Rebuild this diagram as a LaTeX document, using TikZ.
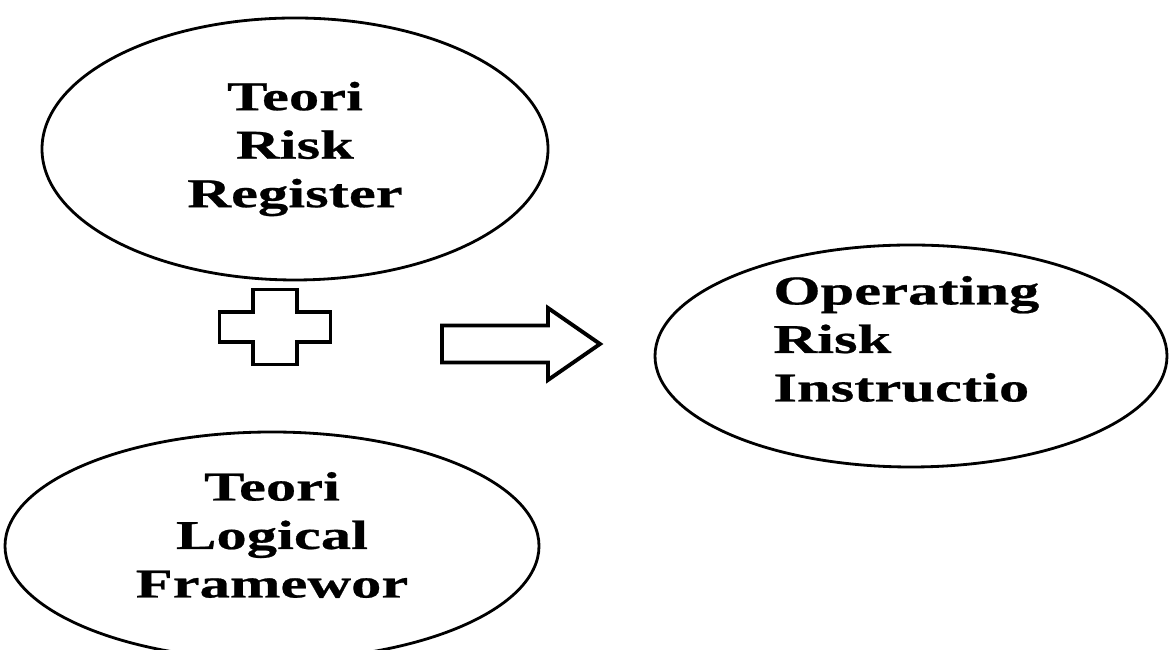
\documentclass[tikz,border=0pt]{standalone}
\usepackage{fontspec}
\usepackage{tikz}
\usetikzlibrary{shapes.geometric}
\newfontfamily\lblfont{Liberation Serif}[FakeStretch=1.48, BoldFeatures={FakeBold=0.6}]

\begin{document}
\begin{tikzpicture}[every node/.style={ellipse, draw=black, line width=1.6pt},
	lbl/.style={draw=none, rectangle, inner sep=0pt, font=\lblfont\bfseries\fontsize{23.3}{27.6}\selectfont},
	sym/.style={draw=black, line width=2.2pt, line join=miter}]
			\useasboundingbox (0,0) rectangle (23.38,13);
			
			\node[minimum width=10.12cm, minimum height=5.24cm] (reg) at (5.9,10.02){};
			\node[minimum width=10.68cm, minimum height=4.56cm] (lfw) at (5.44,2.08){};
			\node[minimum width=10.24cm, minimum height=4.44cm] (opr) at (18.22,5.88){};
			
			\node[lbl, align=center] (regtxt) at (reg.center){Teori\\Risk\\Register};
			\node[lbl, align=center] (lfwtxt) at ([yshift=0.22cm]lfw.center){Teori\\Logical\\Framewor};
			\node[lbl, align=left, anchor=west] (oprtxt) at (15.44,6.22){Operating\\Risk\\Instructio};
			
			\coordinate (plus) at (5.5,6.46);
			\coordinate (arr) at (8.84,6.12);
			
			% plus sign between the two theories
			\path[sym] (plus) ++(-0.44,0.75) -- ++(0.88,0) -- ++(0,-0.45) -- ++(0.67,0) -- ++(0,-0.6)
				-- ++(-0.67,0) -- ++(0,-0.45) -- ++(-0.88,0) -- ++(0,0.45) -- ++(-0.67,0) -- ++(0,0.6) -- ++(0.67,0) -- cycle;
			% block arrow to the result
			\path[sym] (arr) ++(0,0.37) -- ++(2.12,0) -- ++(0,0.35) -- ++(1.04,-0.72) -- ++(-1.04,-0.72)
				-- ++(0,0.35) -- ++(-2.12,0) -- cycle;
			\end{tikzpicture}
\end{document}
